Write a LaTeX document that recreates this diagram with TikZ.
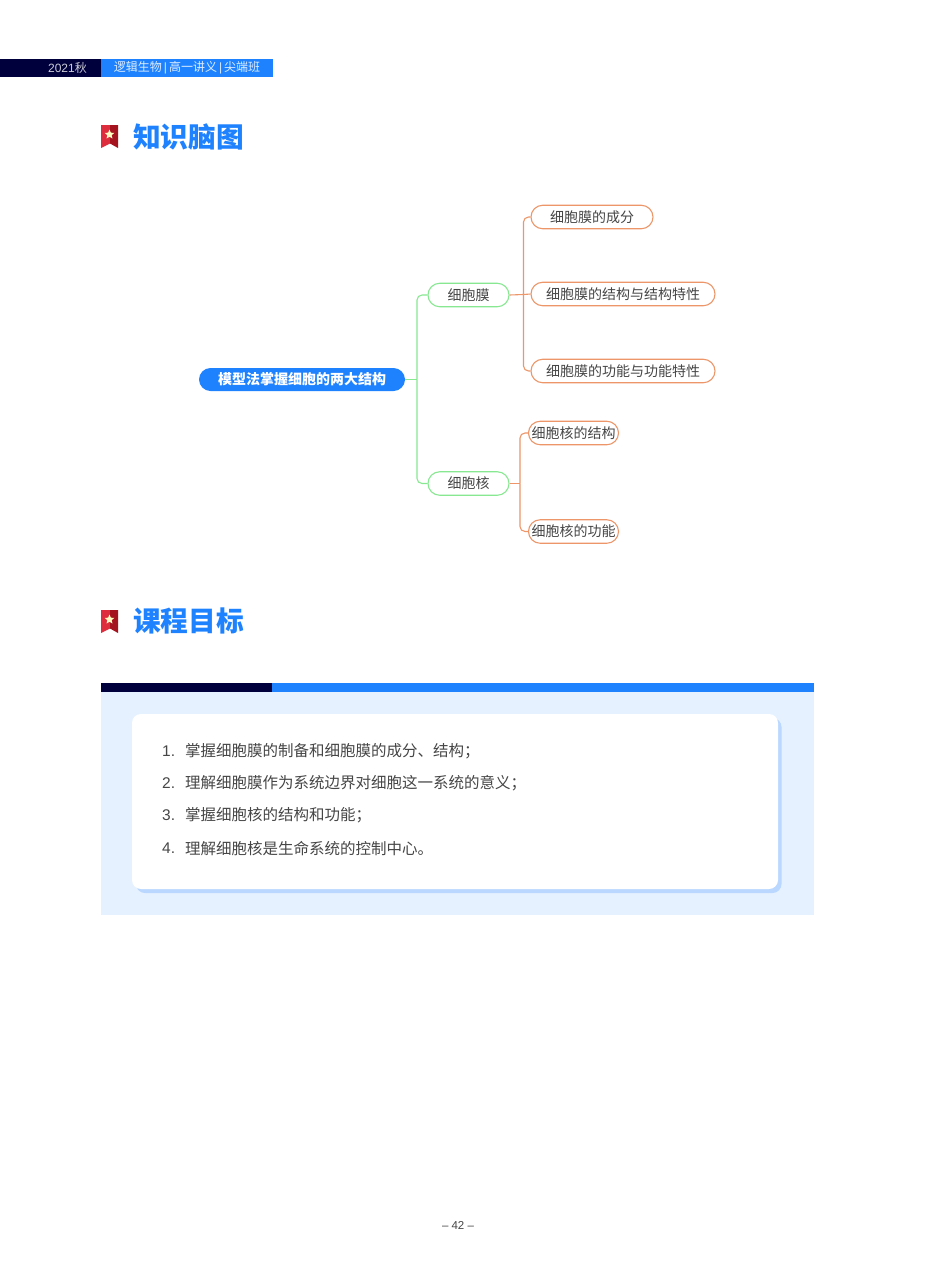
\documentclass[tikz,border=0pt]{standalone}
\usepackage{fontspec}
\setmainfont{Noto Sans CJK SC}
\newfontfamily\latinfont{Liberation Sans}
\usetikzlibrary{shapes.geometric,positioning}
\definecolor{deepnavy}{RGB}{0,0,60}
\definecolor{brightblue}{RGB}{30,130,255}
\definecolor{palepanel}{RGB}{229,241,255}
\definecolor{cardshadow}{RGB}{185,215,255}
\definecolor{mapgreen}{RGB}{135,232,145}
\definecolor{maporange}{RGB}{236,150,105}
\definecolor{bodytext}{RGB}{70,70,70}
\definecolor{flagred}{RGB}{222,45,60}
\definecolor{flagdark}{RGB}{165,20,30}
\tikzset{
	rootbox/.style={
		fill=brightblue,      % solid blue pill
		text=white,           % white text
		font=\fontsize{14}{14}\selectfont,
		rounded corners=11.5pt,
		minimum width=206pt,
		minimum height=23pt,
		inner sep=0pt
	},
	branchbox/.style={
		draw=mapgreen,        % green border
		fill=white,
		text=bodytext,
		line width=1.1pt,
		font=\fontsize{14}{14}\selectfont,
		rounded corners=11.7pt,
		minimum width=81pt,
		minimum height=23.5pt,
		inner sep=0pt
	},
	leafbox/.style={
		draw=maporange,       % orange border
		fill=white,
		text=bodytext,
		line width=1.1pt,
		font=\fontsize{14}{14}\selectfont,
		rounded corners=11.7pt,
		minimum height=23.5pt,
		inner sep=0pt
	},
	greenline/.style={draw=mapgreen,line width=1.1pt,rounded corners=5pt},
	orangeline/.style={draw=maporange,line width=1.1pt,rounded corners=5pt},
	goaltext/.style={
		anchor=west,
		text=bodytext,
		inner sep=0pt,
		font=\fontsize{15.5}{16}\selectfont
	},
	headtext/.style={
		anchor=west,
		text=brightblue,
		inner sep=0pt,
		font=\fontsize{27.7}{28}\selectfont\bfseries
	},
	stripetext/.style={
		text=white,
		inner sep=0pt,
		font=\fontsize{12}{12}\selectfont
	},
	flagstar/.style={
		star,
		star points=5,
		star point ratio=2.2,
		fill=white!75!yellow,
		minimum size=10pt,
		inner sep=0pt
	}
}
% bookmark icon, its top left corner at the given point
\newcommand{\flagicon}[2]{
	\fill[flagred] (#1,#2) -- (#1+9,#2) -- (#1+9,#2+18.5) -- (#1,#2+23) -- cycle;
	\fill[flagdark] (#1+9,#2) -- (#1+17,#2) -- (#1+17,#2+23) -- (#1+9,#2+18.5) -- cycle;
	\node[flagstar] (star#2) at (#1+8.5,#2+9.5) {};
}
\begin{document}
\begin{tikzpicture}[x=1pt,y=-1pt]
	\useasboundingbox (0,0) rectangle (950,1280);
	\fill[white] (0,0) rectangle (950,1280);

	% top stripe
	\fill[deepnavy] (0,59) rectangle (101,77);
	\fill[brightblue] (101,59) rectangle (273,77);
	\node[stripetext,text=white!80!deepnavy] (stripeyear) at (67.5,68) {{\latinfont 2021}秋};
	\node[stripetext,text=white!85!brightblue] (stripetitle) at (187,68) {逻辑生物\,{\latinfont |}\,高一讲义\,{\latinfont |}\,尖端班};

	% headings
	\flagicon{101}{125}
	\node[headtext] (headmap) at (133,136.5) {知识脑图};
	\flagicon{101}{610}
	\node[headtext] (headgoal) at (133,621) {课程目标};

	% mind map
	\node[rootbox] (root) at (302,379.5) {\textbf{模型法掌握细胞的两大结构}};
	\node[branchbox] (membrane) at (468.5,295) {细胞膜};
	\node[branchbox] (nucleus) at (468.5,483.5) {细胞核};
	\node[leafbox,minimum width=122pt] (parts) at (592,217) {细胞膜的成分};
	\node[leafbox,minimum width=184pt] (structure) at (623,294) {细胞膜的结构与结构特性};
	\node[leafbox,minimum width=184pt] (function) at (623,371) {细胞膜的功能与功能特性};
	\node[leafbox,minimum width=90pt] (nucstruct) at (573.5,433) {细胞核的结构};
	\node[leafbox,minimum width=90pt] (nucfunc) at (573.5,531.5) {细胞核的功能};

	\coordinate (rootfork) at (417,379.5);
	\coordinate (memfork) at (523.5,294.5);
	\coordinate (nucfork) at (520,483.5);
	\draw[greenline] (root.east) -- (rootfork);
	\draw[greenline] (rootfork) |- (membrane.west);
	\draw[greenline] (rootfork) |- (nucleus.west);
	\draw[orangeline] (membrane.east) -- (memfork);
	\draw[orangeline] (memfork) |- (parts.west);
	\draw[orangeline] (memfork) -- (structure.west);
	\draw[orangeline] (memfork) |- (function.west);
	\draw[orangeline] (nucleus.east) -- (nucfork);
	\draw[orangeline] (nucfork) |- (nucstruct.west);
	\draw[orangeline] (nucfork) |- (nucfunc.west);

	% goals panel
	\fill[palepanel] (101,692) rectangle (814,915);
	\fill[deepnavy] (101,682.5) rectangle (272,692);
	\fill[brightblue] (272,682.5) rectangle (814,692);
	\fill[cardshadow,rounded corners=9pt] (136,718) rectangle (781.5,893);
	\fill[white,rounded corners=9pt] (132,714) rectangle (778,889);
	\foreach \n/\y/\t in {
		1/751.5/掌握细胞膜的制备和细胞膜的成分、结构；,
		2/783.5/理解细胞膜作为系统边界对细胞这一系统的意义；,
		3/815.5/掌握细胞核的结构和功能；,
		4/848.5/理解细胞核是生命系统的控制中心。}{
		\node[goaltext] (goalnum\n) at (162,\y) {{\latinfont \n.}};
		\node[goaltext] (goal\n) at (185,\y) {\t};
	}

	% page number
	\node[text=bodytext,inner sep=0pt,font=\fontsize{11.5}{12}\latinfont] (pagenum) at (458,1225) {– 42 –};
\end{tikzpicture}
\end{document}
